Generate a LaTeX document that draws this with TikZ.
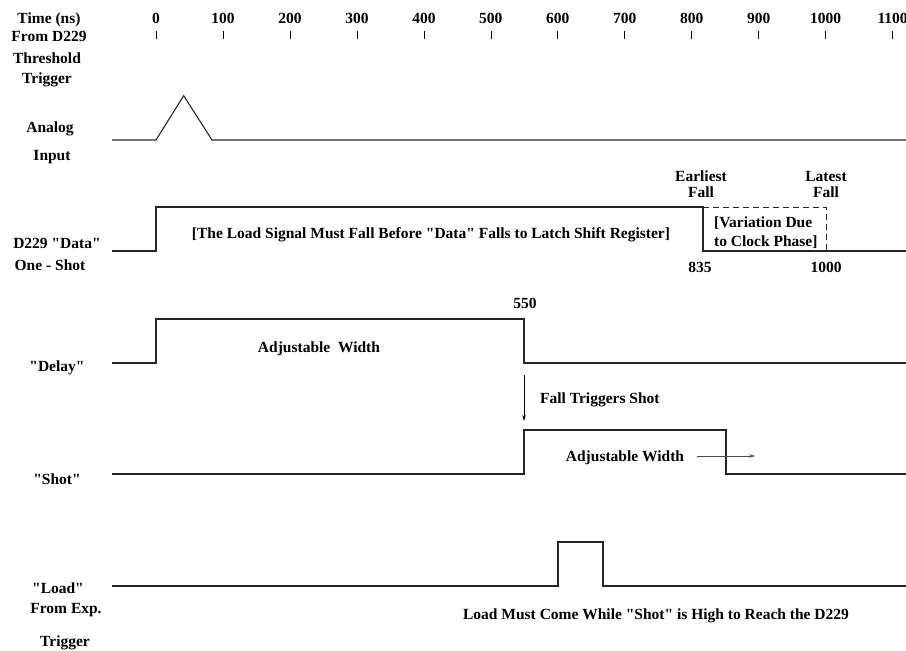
\documentclass[tikz,border=0pt]{standalone}
\usepackage{fontspec}
\setmainfont{Liberation Serif}[Ligatures=TeXOff]
\usetikzlibrary{arrows.meta,positioning}

\begin{document}
\begin{tikzpicture}[x=1pt, y=-1pt, node distance=16pt,
    lbl/.style={font=\bfseries\fontsize{15.5}{18}\selectfont, inner sep=0pt, text height=10pt, text depth=0pt},
    sig/.style={line width=1.1pt, black!85},
    tick/.style={line width=0.7pt},
    note/.style={-{Stealth[length=6pt,width=3.5pt]}, line width=0.7pt}]
      \useasboundingbox (0,0) rectangle (906,651);

      % Time axis
      \node[lbl] (time) at (49,18) {Time (ns)};
      \foreach \t [count=\i] in {0,100,...,1100} {
        \node[lbl] (tk\i) at ({156+0.6697*\t},18) {\t};
        \draw[tick] ([yshift=-8pt]tk\i.south) -- ++(0,8);
      }

      % Signal names
      \node[lbl] (from) at (49,36) {From D229};
      \node[lbl] (thresh) at (47,58) {Threshold};
      \node[lbl] (trig) at (47,78) {Trigger};
      \node[lbl] (analog) at (50,127) {Analog};
      \node[lbl] (input) at (52,155) {Input};
      \node[lbl] (data) at (57,243) {D229 "Data"};
      \node[lbl] (oneshot) at (50,265) {One - Shot};
      \node[lbl] (delay) at (57,366) {"Delay"};
      \node[lbl] (shot) at (57,479) {"Shot"};
      \node[lbl] (load) at (58,588) {"Load"};
      \node[lbl] (fromexp) at (66,608) {From Exp.};
      \node[lbl] (exptrig) at (65,641) {Trigger};

      % Waveforms
      \draw[sig] (112,140) -- (156,140) -- (183.7,95.7) -- (212,140) -- (906,140);
      \draw[sig] (112,251) -- (156,251) -- (156,207) -- (703,207) -- (703,251) -- (906,251);
      \draw[sig, line width=0.8pt, dash pattern=on 6pt off 4pt] (703,207) -- (826,207) -- (826,251);
      \draw[sig] (112,363) -- (156,363) -- (156,319) -- (524,319) -- (524,363) -- (906,363);
      \draw[sig] (112,474) -- (524,474) -- (524,430) -- (726,430) -- (726,474) -- (906,474);
      \draw[sig] (112,586) -- (558,586) -- (558,542) -- (603,542) -- (603,586) -- (906,586);

      % Annotations
      \node[lbl] (datanote) at (431,233) {[The Load Signal Must Fall Before "Data" Falls to Latch Shift Register]};
      \node[lbl] (earliest) at (701,176) {Earliest};
      \node[lbl, below of=earliest] (earlyfall) {Fall};
      \node[lbl] (latest) at (826,176) {Latest};
      \node[lbl, below of=latest] (latefall) {Fall};
      \node[lbl, anchor=west] (var1) at (714,222) {[Variation Due};
      \node[lbl, anchor=west] (var2) at ([yshift=-19pt]var1.west) {to Clock Phase]};
      \node[lbl] (t835) at (700,267) {835};
      \node[lbl] (t1000) at (826,267) {1000};
      \node[lbl] (t550) at (525,303) {550};
      \node[lbl] (delaywidth) at (319,347) {Adjustable\ \ Width};
      \node[lbl, anchor=west] (falltrig) at (540,398) {Fall Triggers Shot};
      \node[lbl] (shotwidth) at (625,456) {Adjustable Width};
      \node[lbl] (loadnote) at (656,614) {Load Must Come While "Shot" is High to Reach the D229};

      % Connections
      \coordinate (delayfall) at (524,375);
      \coordinate (shotrise) at (524,421);
      \coordinate (widthend) at (755,456);
      \draw[note] (delayfall) -- (shotrise);
      \draw[note, black!70] ([xshift=13pt]shotwidth.east) -- (widthend);
\end{tikzpicture}
\end{document}
